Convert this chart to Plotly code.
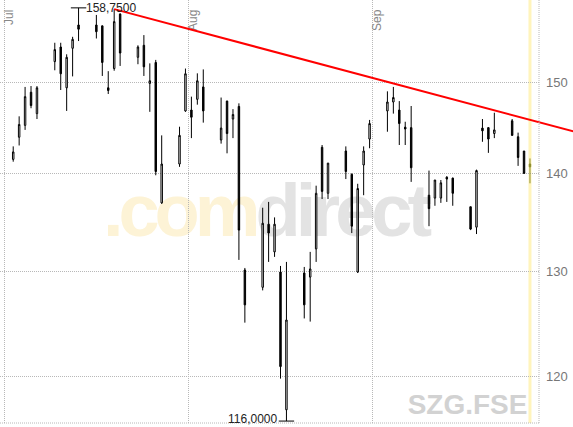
import math
import pandas as pd
import plotly.graph_objects as go

# SZG.FSE daily prices, Jul - Sep 2007
dates = [
    '2007-07-02', '2007-07-03', '2007-07-04', '2007-07-05', '2007-07-06',
    '2007-07-09', '2007-07-10', '2007-07-11', '2007-07-12', '2007-07-13',
    '2007-07-16', '2007-07-17', '2007-07-18', '2007-07-19', '2007-07-20',
    '2007-07-23', '2007-07-24', '2007-07-25', '2007-07-26', '2007-07-27',
    '2007-07-30', '2007-07-31', '2007-08-01', '2007-08-02', '2007-08-03',
    '2007-08-06', '2007-08-07', '2007-08-08', '2007-08-09', '2007-08-10',
    '2007-08-13', '2007-08-14', '2007-08-15', '2007-08-16', '2007-08-17',
    '2007-08-20', '2007-08-21', '2007-08-22', '2007-08-23', '2007-08-24',
    '2007-08-27', '2007-08-28', '2007-08-29', '2007-08-30', '2007-08-31',
    '2007-09-03', '2007-09-04', '2007-09-05', '2007-09-06', '2007-09-07',
    '2007-09-10', '2007-09-11', '2007-09-12', '2007-09-13', '2007-09-14',
    '2007-09-17', '2007-09-18', '2007-09-19', '2007-09-20', '2007-09-21',
    '2007-09-24', '2007-09-25', '2007-09-26', '2007-09-27',
]
opens = [
    141.5, 143.9, 145.2, 148.9, 146.5,
    152.4, 154.1, 149.4, 153.95, 156.7,
    156.7, 156.6, 149.4, 151.6, 158.0,
    152.9, 154.3, 149.9, 152.3, 136.9,
    141.0, 146.8, 146.9, 148.1, 149.5,
    143.6, 147.9, 145.9, 147.3, 130.1,
    128.4, 134.7, 131.9, 129.9, 117.0,
    129.8, 129.4, 132.2, 142.8, 137.9,
    142.4, 139.9, 129.9, 140.9, 143.7,
    146.8, 147.8, 146.9, 145.0, 144.95,
    137.7, 137.4, 137.4, 139.6, 139.5,
    136.5, 134.4, 144.9, 144.95, 144.3,
    145.7, 143.95, 142.4, 141.0,
]
highs = [
    142.9, 146.2, 149.5, 149.6, 149.6,
    154.6, 154.6, 153.25, 155.3, 158.75,
    157.9, 156.6, 151.3, 158.6, 158.1,
    154.3, 155.5, 152.2, 152.6, 144.1,
    145.05, 151.6, 148.4, 151.05, 151.5,
    148.3, 147.95, 147.0, 147.65, 130.3,
    136.4, 137.0, 135.4, 130.5, 130.9,
    130.4, 131.9, 138.7, 143.05, 141.1,
    142.9, 140.0, 138.9, 142.9, 145.8,
    149.0, 149.5, 147.9, 145.6, 147.35,
    140.3, 139.3, 139.3, 139.7, 139.55,
    136.5, 140.4, 145.9, 145.0, 146.6,
    145.9, 144.4, 142.4, 141.6,
]
lows = [
    141.25, 143.0, 144.7, 147.1, 145.9,
    151.4, 149.15, 146.8, 150.7, 154.8,
    155.1, 150.75, 148.7, 151.35, 151.9,
    152.1, 150.75, 146.7, 139.8, 136.8,
    140.7, 146.7, 143.8, 147.5, 145.5,
    143.2, 142.15, 143.8, 131.1, 125.0,
    128.1, 130.9, 131.4, 119.8, 116.0,
    125.4, 125.1, 130.9, 137.3, 137.3,
    139.4, 133.8, 129.8, 137.7, 142.7,
    144.5, 146.5, 143.05, 143.05, 139.1,
    134.5, 136.6, 136.9, 137.0, 136.6,
    134.1, 133.7, 143.4, 142.2, 143.8,
    144.1, 140.8, 140.0, 138.95,
]
closes = [
    142.3, 145.3, 148.4, 147.4, 149.4,
    153.8, 151.0, 152.9, 155.0, 156.2,
    155.9, 152.3, 149.1, 157.1, 153.4,
    154.1, 151.8, 150.2, 140.2, 141.0,
    144.1, 151.0, 146.1, 150.2, 146.8,
    144.9, 144.3, 146.4, 134.1, 126.7,
    134.8, 133.8, 134.7, 120.9, 125.25,
    126.7, 130.2, 137.9, 138.1, 141.1,
    140.2, 134.5, 138.4, 142.4, 145.4,
    147.8, 148.3, 145.4, 144.8, 140.6,
    136.3, 139.3, 139.0, 139.4, 137.9,
    134.2, 140.3, 144.6, 143.7, 144.7,
    144.1, 141.7, 140.0, 140.7,
]

trend_dates = ['2007-07-19 12:00', '2007-10-05 00:00']
trend_prices = [158.6, 144.5]

month_ticks = ['2007-07-01', '2007-08-01', '2007-09-01']
month_labels = ['Jul', 'Aug', 'Sep']
price_ticks = [120, 130, 140, 150]

FONT = 'Liberation Sans, Arial, sans-serif'
GRID = '#b8b8b8'

x = pd.to_datetime(dates) + pd.Timedelta(hours=12)

x_left = pd.Timestamp('2007-06-30 06:38')
x_right = pd.Timestamp('2007-09-29 00:30')
y_range = [math.log10(115.83), math.log10(159.7)]
plot_frac = 539 / 573
x2_right = x_left + (x_right - x_left) / plot_frac

imax = highs.index(max(highs))
imin = lows.index(min(lows))


def de_num(v):
    return f'{v:.4f}'.replace('.', ',')


fig = go.Figure()

fig.add_trace(go.Candlestick(
    x=x[:-1], open=opens[:-1], high=highs[:-1], low=lows[:-1], close=closes[:-1],
    increasing=dict(line=dict(color='black', width=1), fillcolor='white'),
    decreasing=dict(line=dict(color='black', width=1), fillcolor='black'),
    whiskerwidth=0, showlegend=False, hoverinfo='skip'
))
fig.add_trace(go.Candlestick(
    x=x[-1:], open=opens[-1:], high=highs[-1:], low=lows[-1:], close=closes[-1:],
    increasing=dict(line=dict(color='#8c8c2a', width=1), fillcolor='#8c8c2a'),
    decreasing=dict(line=dict(color='#8c8c2a', width=1), fillcolor='#8c8c2a'),
    whiskerwidth=0, showlegend=False, hoverinfo='skip'
))

# high / low markers
fig.add_trace(go.Scatter(
    x=[x[imax], x[imin]], y=[highs[imax], lows[imin]],
    mode='markers', showlegend=False, hoverinfo='skip',
    marker=dict(symbol='line-ew', size=11, line=dict(width=1, color='black'))
))

# trend line, runs past the plot edge
fig.add_trace(go.Scatter(
    x=trend_dates, y=trend_prices, xaxis='x2', yaxis='y2',
    mode='lines', line=dict(color='#ff0000', width=2),
    showlegend=False, hoverinfo='skip'
))

fig.add_annotation(x=x[imax], y=math.log10(highs[imax]), text=de_num(highs[imax]),
                   showarrow=False, xanchor='left', xshift=5,
                   font=dict(family=FONT, size=12, color='#222'))
fig.add_annotation(x=x[imin], y=math.log10(lows[imin]), text=de_num(lows[imin]),
                   showarrow=False, xanchor='right', xshift=-7, yshift=2,
                   font=dict(family=FONT, size=12, color='#222'))

shapes = [
    dict(type='line', xref='paper', yref='paper', x0=plot_frac, x1=plot_frac, y0=0, y1=1,
         line=dict(color=GRID, width=1, dash='1px,1px')),
    dict(type='line', xref='paper', yref='paper', x0=0, x1=plot_frac, y0=0, y1=0,
         line=dict(color=GRID, width=1, dash='1px,1px')),
    dict(type='line', xref='x', yref='paper', x0=x[-1], x1=x[-1], y0=0, y1=1,
         line=dict(color='#fff4bc', width=3), layer='below'),
    dict(type='rect', xref='paper', yref='paper', x0=0.3625, x1=0.5625, y0=0.468, y1=0.568,
         line=dict(width=0), fillcolor='rgba(0,0,0,0)', layer='below',
         label=dict(text='<b><span style="color:#fdf3d6;letter-spacing:-5px">.com</span>'
                         '<span style="color:#e3e3e3;letter-spacing:-5px">direct</span></b>',
                    textposition='middle center',
                    font=dict(family=FONT, size=74))),
    dict(type='rect', xref='paper', yref='paper', x0=0.766, x1=0.866, y0=0.0, y1=0.1,
         line=dict(width=0), fillcolor='rgba(0,0,0,0)', layer='below',
         label=dict(text='<b>SZG.FSE</b>', textposition='middle center',
                    font=dict(family=FONT, size=28, color='#d2d2d2'))),
]

fig.update_layout(
    width=573, height=427,
    margin=dict(l=0, r=0, t=0, b=4),
    plot_bgcolor='rgba(0,0,0,0)', paper_bgcolor='white',
    showlegend=False,
    boxgap=0.65,
    shapes=shapes,
    xaxis=dict(
        type='date', range=[x_left, x_right], domain=[0, plot_frac],
        rangeslider=dict(visible=False),
        tickvals=month_ticks, ticktext=month_labels,
        side='top', ticklabelposition='inside', tickangle=-90, ticks='',
        ticklabelshift=5,
        tickfont=dict(family=FONT, size=12, color='#888'),
        showgrid=True, gridcolor=GRID, griddash='1px,1px', gridwidth=1,
        showline=False, zeroline=False, fixedrange=True,
    ),
    yaxis=dict(
        type='log', range=y_range, side='right', anchor='x',
        tickvals=price_ticks, ticks='',
        ticklabelstandoff=6,
        tickfont=dict(family=FONT, size=13, color='#777'),
        showgrid=True, gridcolor=GRID, griddash='1px,1px', gridwidth=1,
        showline=False, zeroline=False, fixedrange=True,
    ),
    xaxis2=dict(type='date', domain=[0, 1], range=[x_left, x2_right],
                anchor='y2', visible=False, fixedrange=True),
    yaxis2=dict(type='log', range=y_range, overlaying='y', anchor='x2',
                visible=False, fixedrange=True),
)

fig.write_html('out.html', config={'displayModeBar': False},
               post_script="document.body.style.margin = '0';")
